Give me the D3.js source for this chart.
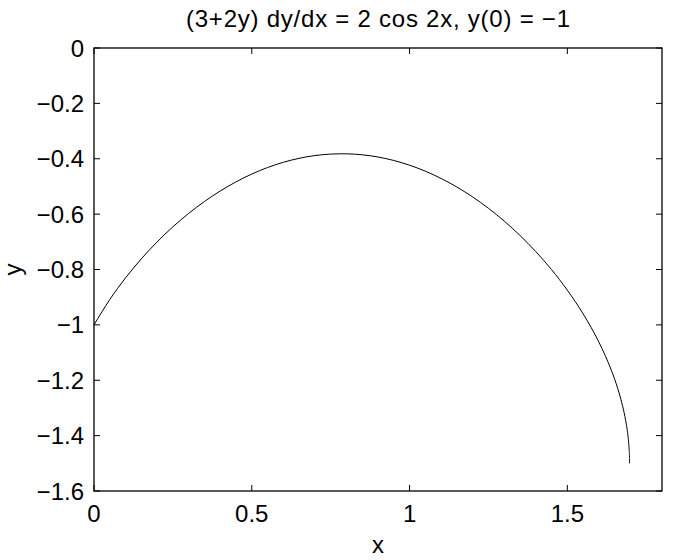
<!DOCTYPE html>
<html><head><meta charset="utf-8">
<script src="https://cdn.jsdelivr.net/npm/d3@7"></script>
<style>body{margin:0;background:#fff}text{font-family:"Liberation Sans",Arial,sans-serif;fill:#000}</style>
</head><body><svg id="c" width="678" height="560"></svg>
<script>
const xs = [0,0.05,0.1,0.15,0.2,0.25,0.3,0.35,0.4,0.45,0.5,0.55,0.6,0.65,0.7,0.75,0.785,0.8,0.85,0.9,0.95,1.0,1.05,1.1,1.15,1.2,1.25,1.3,1.35,1.4,1.45,1.5,1.55,1.6,1.62,1.64,1.66,1.67,1.68,1.685,1.69,1.693,1.695,1.696,1.697,1.6972];
const ys = [-1,-0.9085,-0.8302,-0.7614,-0.7004,-0.6459,-0.5974,-0.5544,-0.5165,-0.4835,-0.4553,-0.4317,-0.4128,-0.3984,-0.3885,-0.3831,-0.3820,-0.3822,-0.3857,-0.3937,-0.4062,-0.4233,-0.4449,-0.4712,-0.5021,-0.5380,-0.5789,-0.6251,-0.6770,-0.7352,-0.8005,-0.8746,-0.9600,-1.0622,-1.1105,-1.1653,-1.2307,-1.2700,-1.3173,-1.3462,-1.3818,-1.4096,-1.4343,-1.4511,-1.4786,-1.5];
const xTicks = [0,0.5,1,1.5];
const yTicks = [0,-0.2,-0.4,-0.6,-0.8,-1,-1.2,-1.4,-1.6];
const titleText = "(3+2y) dy/dx = 2 cos 2x, y(0) = \u22121";

const L=94,R=662,T=48,B=491;
const svg=d3.select("#c");
const x=d3.scaleLinear().domain([0,1.8]).range([L,R]);
const y=d3.scaleLinear().domain([-1.6,0]).range([B,T]);
const fmt=d=>String(d).replace("-","\u2212");
const tl=6, fs=24;
const g=svg.append("g");
xTicks.forEach(t=>{
  g.append("line").attr("x1",x(t)).attr("x2",x(t)).attr("y1",B).attr("y2",B-tl).attr("stroke","#000");
  g.append("line").attr("x1",x(t)).attr("x2",x(t)).attr("y1",T).attr("y2",T+tl).attr("stroke","#000");
  g.append("text").attr("x",x(t)).attr("y",B+31).attr("text-anchor","middle").attr("font-size",fs).text(fmt(t));
});
yTicks.forEach(t=>{
  g.append("line").attr("x1",L).attr("x2",L+tl).attr("y1",y(t)).attr("y2",y(t)).attr("stroke","#000");
  g.append("line").attr("x1",R).attr("x2",R-tl).attr("y1",y(t)).attr("y2",y(t)).attr("stroke","#000");
  g.append("text").attr("x",L-10).attr("y",y(t)+8.5).attr("text-anchor","end").attr("font-size",fs).text(fmt(t));
});
g.append("rect").attr("x",L).attr("y",T).attr("width",R-L).attr("height",B-T).attr("fill","none").attr("stroke","#000").attr("stroke-width",1.3);
const pts=xs.map((v,i)=>[v,ys[i]]);
g.append("path").datum(pts).attr("fill","none").attr("stroke","#000").attr("stroke-width",1)
 .attr("d",d3.line().x(d=>x(d[0])).y(d=>y(d[1])).curve(d3.curveMonotoneX));
g.append("text").attr("x",(L+R)/2).attr("y",27).attr("text-anchor","middle").attr("font-size",fs)
 .attr("textLength",384).attr("lengthAdjust","spacing").text(titleText);
g.append("text").attr("x",(L+R)/2).attr("y",553).attr("text-anchor","middle").attr("font-size",fs).text("x");
g.append("text").attr("transform",`translate(21,${(T+B)/2}) rotate(-90)`).attr("text-anchor","middle").attr("font-size",fs).text("y");
</script></body></html>
